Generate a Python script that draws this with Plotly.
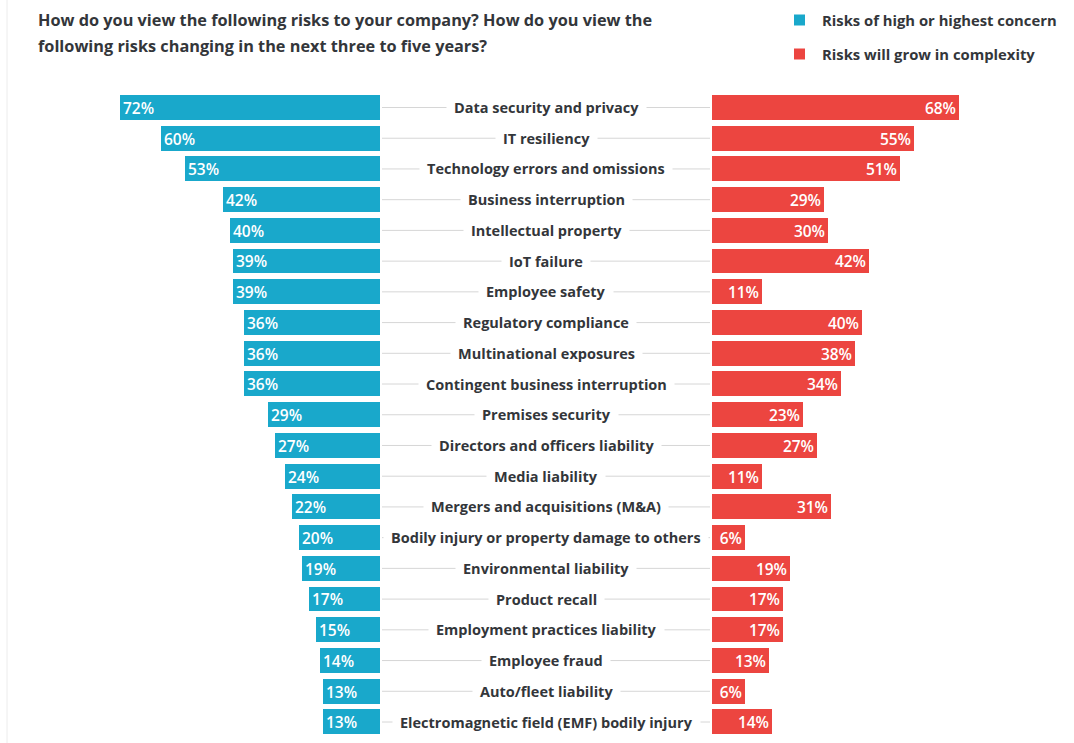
import plotly.graph_objects as go

categories = [
    "Data security and privacy", "IT resiliency", "Technology errors and omissions",
    "Business interruption", "Intellectual property", "IoT failure", "Employee safety",
    "Regulatory compliance", "Multinational exposures", "Contingent business interruption",
    "Premises security", "Directors and officers liability", "Media liability",
    "Mergers and acquisitions (M&A)", "Bodily injury or property damage to others",
    "Environmental liability", "Product recall", "Employment practices liability",
    "Employee fraud", "Auto/fleet liability", "Electromagnetic field (EMF) bodily injury",
]
high_concern = [72, 60, 53, 42, 40, 39, 39, 36, 36, 36, 29, 27, 24, 22, 20, 19, 17, 15, 14, 13, 13]
grow_complexity = [68, 55, 51, 29, 30, 42, 11, 40, 38, 34, 23, 27, 11, 31, 6, 19, 17, 17, 13, 6, 14]
series_names = ["Risks of high or highest concern", "Risks will grow in complexity"]
title_lines = ["How do you view the following risks to your company? How do you view the",
               "following risks changing in the next three to five years?"]

W, H = 1074, 743
TEAL = "#19a8cb"
RED = "#ec4540"
DARK = "#33363a"
FONT = "Open Sans"

OFF = 3.5          # bars start slightly before zero (visual gap at the centre column)
SCALE = 3.45       # px per percent
LEFT_END = 380
RIGHT_START = 712

n = len(categories)
ys = list(range(n))

fig = go.Figure()
for vals, col, ax, nm in [(high_concern, TEAL, "x", series_names[0]),
                          (grow_complexity, RED, "x2", series_names[1])]:
    fig.add_trace(go.Bar(
        y=ys, x=[v + OFF for v in vals], base=[-OFF] * n, orientation="h", xaxis=ax, yaxis="y",
        marker=dict(color=col, line=dict(width=0)), width=0.81,
        text=[f"{v}%" for v in vals], textposition="inside", insidetextanchor="end", textangle=0,
        textfont=dict(color="white", size=15.5, family=FONT, weight=600),
        name=nm, showlegend=False, constraintext="none", hoverinfo="skip",
    ))

left_units = LEFT_END / SCALE
right_units = (W - RIGHT_START) / SCALE

top_px, bottom_px = 107.5 - 15.36, 722 + 15.36

shapes = []
annotations = []
cx = (LEFT_END + RIGHT_START) / 2 / W
for i, c in enumerate(categories):
    shapes.append(dict(type="line", xref="paper", yref="y",
                       x0=(LEFT_END + 2) / W, x1=(RIGHT_START - 2) / W, y0=i, y1=i,
                       line=dict(color="#d6d6d6", width=1), layer="below"))
    annotations.append(dict(xref="paper", yref="y", x=cx, y=i, text=c, showarrow=False,
                            xanchor="center", yanchor="middle", bgcolor="white", borderpad=7,
                            font=dict(size=14.5, color=DARK, family=FONT, weight="bold")))

# title (two lines)
for ypx, line in zip([20, 46], title_lines):
    annotations.append(dict(xref="paper", yref="paper", x=36 / W, y=1 - ypx / H, xanchor="left",
                            yanchor="middle", align="left", showarrow=False, text=line,
                            font=dict(size=16.3, color=DARK, family=FONT, weight="bold")))
# legend
for nm, col, ypx in [(series_names[0], TEAL, 20), (series_names[1], RED, 54)]:
    shapes.append(dict(type="rect", xref="paper", yref="paper",
                       x0=794 / W, x1=805 / W, y0=1 - (ypx - 5.5) / H, y1=1 - (ypx + 5.5) / H,
                       fillcolor=col, line=dict(width=0)))
    annotations.append(dict(xref="paper", yref="paper", x=820 / W, y=1 - ypx / H, xanchor="left",
                            yanchor="middle", showarrow=False, text=nm,
                            font=dict(size=14.8, color=DARK, family=FONT, weight="bold")))

# faint frame line at left
shapes.append(dict(type="line", xref="paper", yref="paper", x0=7 / W, x1=7 / W, y0=0, y1=1,
                   line=dict(color="#ececec", width=1)))

fig.update_layout(
    width=W, height=H, margin=dict(l=0, r=0, t=0, b=0),
    paper_bgcolor="white", plot_bgcolor="white",
    barmode="overlay", bargap=0,
    uniformtext=dict(minsize=15, mode="show"),
    xaxis=dict(domain=[0, LEFT_END / W], range=[left_units - OFF, -OFF], visible=False, fixedrange=True),
    xaxis2=dict(domain=[RIGHT_START / W, 1], range=[-OFF, right_units - OFF], visible=False, fixedrange=True),
    yaxis=dict(domain=[1 - bottom_px / H, 1 - top_px / H], range=[n - 0.5, -0.5], visible=False),
    shapes=shapes, annotations=annotations, showlegend=False,
)

fig.write_html("out.html")
